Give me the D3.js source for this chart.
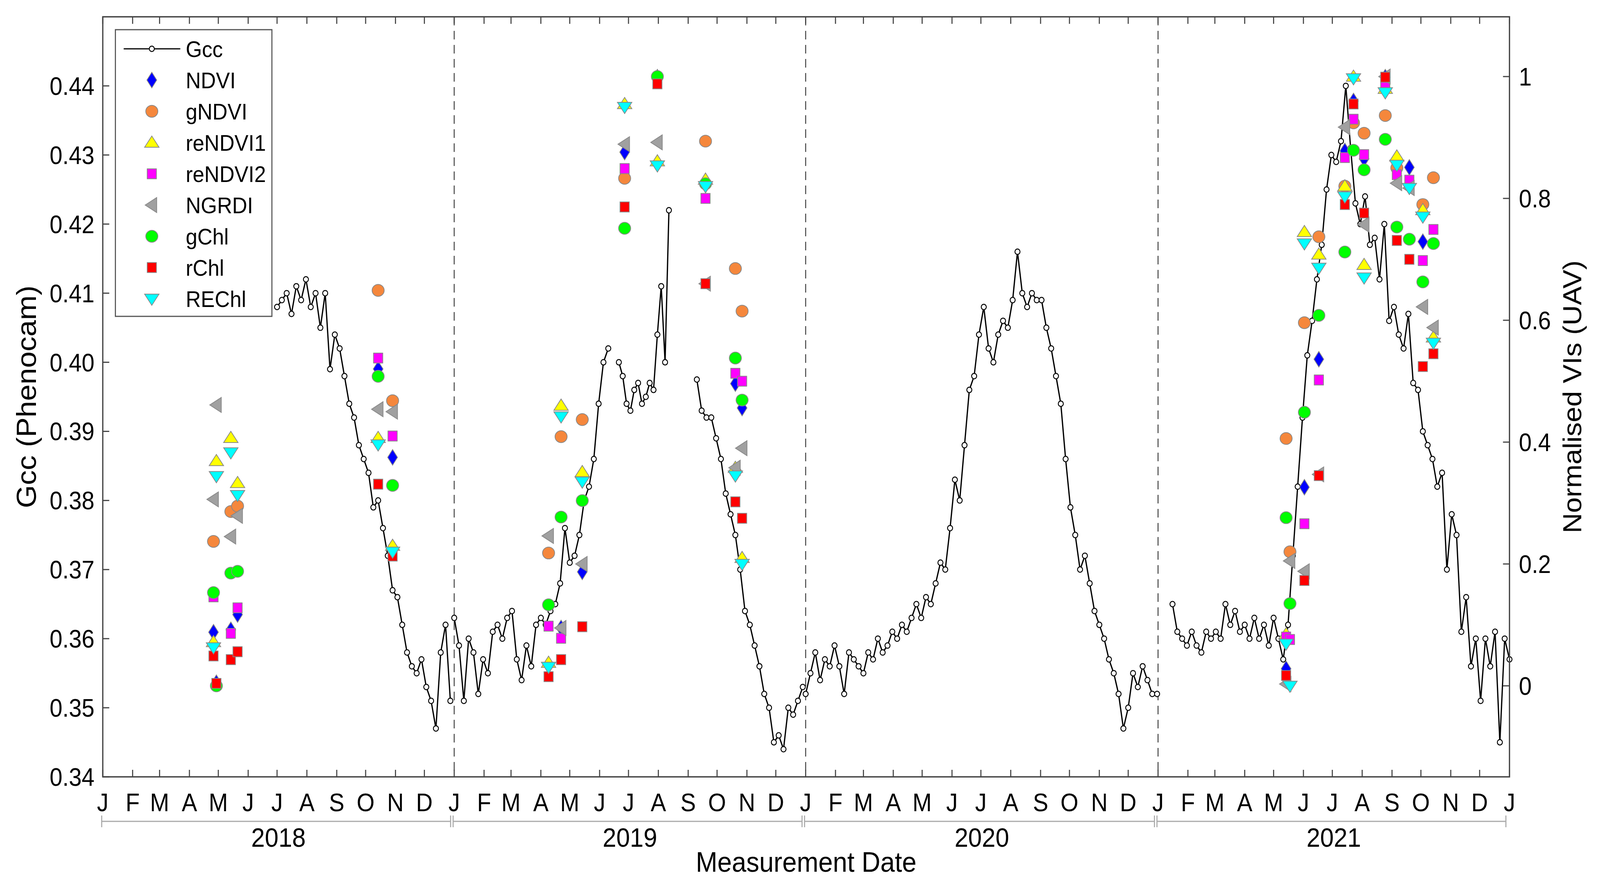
<!DOCTYPE html>
<html><head><meta charset="utf-8">
<script src="https://cdn.jsdelivr.net/npm/d3@7"></script>
<style>html,body{margin:0;padding:0;background:#fff;overflow:hidden;width:100%;height:100%}svg{display:block}text{font-family:"Liberation Sans",Arial,sans-serif}</style>
</head><body><div id="chart"></div>
<script>
// Gcc segments: start date, step (days), values
const gcc2018 = [.408,.409,.410,.407,.411,.409,.412,.408,.410,.405,.410,.399,.404,.402,.398,.394,.392,.388,.386,.384,.379,.380,.376,.372,.367,.366,.362,.358,.356,.355,.357,.353,.351,.347,.358,.362,.351];
const gcc2019a = [.363,.359,.351,.360,.358,.352,.357,.355,.361,.362,.360,.363,.364,.357,.354,.359,.356,.362,.363,.362,.364,.365,.368,.376,.371,.372,.375,.380,.382,.386,.394,.400,.402];
const gcc2019b = [.400,.398,.394,.393,.396,.397,.394,.395,.397,.396,.404,.411,.400,.422];
const gcc2019c = [.3975,.393,.392,.392,.389,.386,.381,.378,.375,.370,.364,.362,.359,.356,.352,.350,.345,.346,.344,.350,.349,.351,.353];
const gcc2020 = [.352,.355,.358,.354,.357,.356,.359,.356,.352,.358,.357,.356,.355,.358,.357,.360,.358,.359,.361,.360,.362,.361,.363,.365,.363,.366,.365,.368,.371,.370,.376,.383,.380,.388,.396,.398,.404,.408,.402,.400,.404,.406,.405,.409,.416,.410,.408,.410,.409,.409,.405,.402,.398,.394,.386,.379,.375,.370,.372,.368,.364,.362,.360,.357,.355,.352,.347,.350,.355,.353,.356,.354,.352,.352];
const gcc2021 = [.365,.361,.360,.359,.361,.359,.358,.361,.360,.361,.360,.365,.362,.364,.361,.362,.360,.363,.360,.362,.359,.363,.360,.357,.362,.372,.382,.392,.401,.406,.412,.417,.425,.430,.429,.432,.440,.431,.423,.420,.424,.417,.418,.412,.420,.406,.408,.404,.402,.407,.397,.396,.390,.388,.386,.382,.384,.370,.378,.375,.361,.366,.356,.360,.351,.360,.356,.361,.345,.360,.357];
const gccSegments = [
  {start:'2018-07-01', step:5, values:gcc2018},
  {start:'2019-01-01', step:5, values:gcc2019a},
  {start:'2019-06-21', step:4, values:gcc2019b},
  {start:'2019-09-10', step:5, values:gcc2019c},
  {start:'2020-01-01', step:5, values:gcc2020},
  {start:'2021-01-16', step:5, values:gcc2021}
];

// UAV flight dates and normalised VIs
const viDates = ['2018-04-26','2018-04-29','2018-05-14','2018-05-21','2018-10-14','2018-10-29',
  '2019-04-09','2019-04-22','2019-05-14','2019-06-27','2019-07-31','2019-09-19','2019-10-20','2019-10-27',
  '2021-05-14','2021-05-18','2021-06-02','2021-06-17','2021-07-14','2021-07-23','2021-08-03','2021-08-25','2021-09-06','2021-09-19','2021-10-03','2021-10-14'];
const ndvi    = [.088,.005,.092,.117,.52,.375,  null,.095,.187,.876,.999,.822,.496,.456,  .028,null,.326,.536,.878,.96,.865,.999,null,.851,.729,null];
const gndvi   = [.237,null,.286,.295,.649,.468,  .218,.409,.437,.833,null,.894,.685,.615,  .406,.22,.596,.737,.82,.924,.907,.936,.85,null,.79,.834];
const rendvi1 = [.072,.369,.407,.333,.407,.23,   .038,.46,.351,.955,.861,.831,.358,.21,   .085,null,.745,.708,.82,1.0,.691,.98,.869,null,.781,.572];
const rendvi2 = [.146,null,.086,.128,.538,.41,   .098,.078,null,.849,null,.80,.513,.5,    .080,.076,.266,.502,.867,.93,.872,.99,.839,.83,.698,.749];
const ngrdi   = [.306,.461,.245,.279,.454,.45,   .246,.095,.2,.889,.892,.66,.358,.39,     .003,.205,.188,.347,.917,null,.757,1.0,.825,.817,.622,.588];
const gchl    = [.153,0,.185,.188,.508,.329,     .133,.277,.304,.751,1.0,.824,.538,.469,  .276,.135,.449,.608,.712,.879,.847,.897,.753,.733,.663,.726];
const rchl    = [.049,.004,.043,.056,.331,.213,  .015,.043,.097,.786,.988,.66,.302,.275,  .017,null,.173,.345,.79,.955,.776,.999,.731,.70,.524,.545];
const rechl   = [.063,.344,.383,.313,.396,.22,   .031,.442,.335,.95,.854,.82,.345,.2,     .069,0,.726,.686,.803,.997,.67,.974,.855,.817,.77,.563];

const viSeries = [
  {name:'NDVI', values:ndvi, shape:'diamond', fill:'#0000ff'},
  {name:'gNDVI', values:gndvi, shape:'circle', fill:'#f5873c'},
  {name:'reNDVI1', values:rendvi1, shape:'up', fill:'#ffff00'},
  {name:'reNDVI2', values:rendvi2, shape:'square', fill:'#ff00ff'},
  {name:'NGRDI', values:ngrdi, shape:'left', fill:'#a0a0a0'},
  {name:'gChl', values:gchl, shape:'circle', fill:'#00ff00'},
  {name:'rChl', values:rchl, shape:'square', fill:'#ff0000'},
  {name:'REChl', values:rechl, shape:'down', fill:'#00ffff'}
];
const monthLetters = ['J','F','M','A','M','J','J','A','S','O','N','D'];
const years = [2018, 2019, 2020, 2021];

const W = 4437, H = 2248;
const m = {l:285, r:4186, t:43, b:1989};
const parse = d3.utcParse('%Y-%m-%d');
const x = d3.scaleUtc().domain([new Date(Date.UTC(2018,0,1)), new Date(Date.UTC(2022,0,1))]).range([m.l, m.r]);
const yL = d3.scaleLinear().domain([0.34, 0.45]).range([m.b, m.t]);
const yR = d3.scaleLinear().domain([-0.1494, 1.0981]).range([m.b, m.t]);

const svg = d3.select('#chart').append('svg')
  .attr('viewBox', `0 0 ${W} ${H}`).attr('preserveAspectRatio', 'none')
  .style('width', '100vw').style('height', '100vh');
const FS = 64;

// year separators
svg.append('g').selectAll('line').data([2019, 2020, 2021]).join('line')
  .attr('x1', d => x(new Date(Date.UTC(d,0,1)))).attr('x2', d => x(new Date(Date.UTC(d,0,1))))
  .attr('y1', m.t).attr('y2', m.b)
  .attr('stroke', '#555').attr('stroke-width', 3).attr('stroke-dasharray', '22,14');

// Gcc line
const line = d3.line().x(d => x(d[0])).y(d => yL(d[1]));
const gccG = svg.append('g');
gccSegments.forEach(seg => {
  const s = parse(seg.start);
  const pts = seg.values.map((v, i) => [d3.utcDay.offset(s, i * seg.step), v]);
  gccG.append('path').attr('d', line(pts)).attr('fill', 'none').attr('stroke', '#000').attr('stroke-width', 3.5);
  gccG.selectAll(null).data(pts).join('circle')
    .attr('cx', d => x(d[0])).attr('cy', d => yL(d[1])).attr('r', 7)
    .attr('fill', '#fff').attr('stroke', '#000').attr('stroke-width', 2.5);
});

// marker shapes
function shapePath(shape, s) {
  switch (shape) {
    case 'diamond': return `M0,${-s*1.25}L${s*0.85},0L0,${s*1.25}L${-s*0.85},0Z`;
    case 'up': return `M0,${-s*1.05}L${s*1.25},${s*0.75}L${-s*1.25},${s*0.75}Z`;
    case 'down': return `M0,${s*1.05}L${s*1.25},${-s*0.75}L${-s*1.25},${-s*0.75}Z`;
    case 'left': return `M${-s*1.15},0L${s*0.85},${-s*1.2}L${s*0.85},${s*1.2}Z`;
    case 'square': return `M${-s*0.8},${-s*0.8}H${s*0.8}V${s*0.8}H${-s*0.8}Z`;
    default: return null;
  }
}
function drawMarker(g, ser, s) {
  if (ser.shape === 'circle') {
    g.append('ellipse').attr('rx', s * 1.05).attr('ry', s * 0.95)
      .attr('fill', ser.fill).attr('stroke', '#888').attr('stroke-width', 2);
  } else {
    g.append('path').attr('d', shapePath(ser.shape, s))
      .attr('fill', ser.fill).attr('stroke', '#888').attr('stroke-width', 2);
  }
}
const viG = svg.append('g');
const viParsed = viDates.map(parse);
viSeries.forEach(ser => {
  ser.values.forEach((v, i) => {
    if (v === null) return;
    const g = viG.append('g').attr('transform', `translate(${x(viParsed[i])},${yR(v)})`);
    drawMarker(g, ser, 16);
  });
});

// axes box
svg.append('rect').attr('x', m.l).attr('y', m.t).attr('width', m.r - m.l).attr('height', m.b - m.t)
  .attr('fill', 'none').attr('stroke', '#444').attr('stroke-width', 3.5);

const months = d3.utcMonth.range(x.domain()[0], d3.utcDay.offset(x.domain()[1], 1));
const tl = 18;
const ticks = svg.append('g').attr('stroke', '#444').attr('stroke-width', 3);
months.forEach(d => {
  ticks.append('line').attr('x1', x(d)).attr('x2', x(d)).attr('y1', m.b).attr('y2', m.b - tl);
  ticks.append('line').attr('x1', x(d)).attr('x2', x(d)).attr('y1', m.t).attr('y2', m.t + tl);
});
svg.append('g').selectAll('text').data(months).join('text')
  .attr('x', d => x(d)).attr('y', 2077).attr('text-anchor', 'middle').attr('font-size', FS)
  .text(d => monthLetters[d.getUTCMonth()]);

const leftTicks = d3.range(0, 11).map(i => +(0.34 + i * 0.01).toFixed(2));
leftTicks.forEach(v => {
  ticks.append('line').attr('x1', m.l).attr('x2', m.l + tl).attr('y1', yL(v)).attr('y2', yL(v));
});
svg.append('g').selectAll('text').data(leftTicks).join('text')
  .attr('x', 262).attr('y', d => yL(d) + 23).attr('text-anchor', 'end').attr('font-size', FS)
  .text(d => d3.format('.2f')(d));

const rightTicks = [0, 0.2, 0.4, 0.6, 0.8, 1];
rightTicks.forEach(v => {
  ticks.append('line').attr('x1', m.r).attr('x2', m.r - tl).attr('y1', yR(v)).attr('y2', yR(v));
});
svg.append('g').selectAll('text').data(rightTicks).join('text')
  .attr('x', 4212).attr('y', d => yR(d) + 23).attr('text-anchor', 'start').attr('font-size', FS)
  .text(d => d3.format('~g')(d));

// year brackets
const yb = svg.append('g').attr('stroke', '#aaa').attr('stroke-width', 3);
years.forEach(yr => {
  const a = x(new Date(Date.UTC(yr,0,1))) - 3, b = x(new Date(Date.UTC(yr + 1,0,1))) - 10;
  yb.append('line').attr('x1', a).attr('x2', b).attr('y1', 2103).attr('y2', 2103);
  yb.append('line').attr('x1', a).attr('x2', a).attr('y1', 2088).attr('y2', 2118);
  yb.append('line').attr('x1', b).attr('x2', b).attr('y1', 2088).attr('y2', 2118);
});
svg.append('g').selectAll('text').data(years).join('text')
  .attr('x', d => (x(new Date(Date.UTC(d,0,1))) + x(new Date(Date.UTC(d + 1,0,1)))) / 2)
  .attr('y', 2168).attr('text-anchor', 'middle').attr('font-size', 68).text(d => d);

svg.append('text').attr('x', (m.l + m.r) / 2).attr('y', 2232).attr('text-anchor', 'middle')
  .attr('font-size', 72).text('Measurement Date');
svg.append('text').attr('transform', `translate(100,${(m.t + m.b) / 2}) rotate(-90)`)
  .attr('text-anchor', 'middle').attr('font-size', 76).text('Gcc (Phenocam)');
svg.append('text').attr('transform', `translate(4385,${(m.t + m.b) / 2}) rotate(-90)`)
  .attr('text-anchor', 'middle').attr('font-size', 72).text('Normalised VIs (UAV)');

// legend
const lg = svg.append('g');
lg.append('rect').attr('x', 320).attr('y', 76).attr('width', 434).attr('height', 734)
  .attr('fill', '#fff').attr('stroke', '#555').attr('stroke-width', 3);
const ly = i => 125 + i * 80;
lg.append('line').attr('x1', 343).attr('x2', 500).attr('y1', ly(0)).attr('y2', ly(0)).attr('stroke', '#000').attr('stroke-width', 3);
lg.append('circle').attr('cx', 421).attr('cy', ly(0)).attr('r', 7).attr('fill', '#fff').attr('stroke', '#000').attr('stroke-width', 2.5);
lg.append('text').attr('x', 515).attr('y', ly(0) + 21).attr('font-size', 58).text('Gcc');
viSeries.forEach((ser, i) => {
  const g = lg.append('g').attr('transform', `translate(421,${ly(i + 1)})`);
  drawMarker(g, ser, 16);
  lg.append('text').attr('x', 515).attr('y', ly(i + 1) + 21).attr('font-size', 58).text(ser.name);
});
</script></body></html>
